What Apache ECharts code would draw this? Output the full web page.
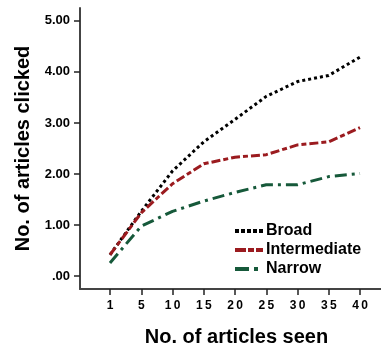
<!DOCTYPE html>
<html>
<head>
<meta charset="utf-8">
<script src="https://cdn.jsdelivr.net/npm/echarts@6/dist/echarts.min.js"></script>
<style>html,body{margin:0;padding:0;background:#fff}#c{width:381px;height:352px}</style>
</head>
<body>
<div id="c"></div>
<script>
const categories = ['1', '5', '10', '15', '20', '25', '30', '35', '40'];
const broad = [0.42, 1.27, 2.06, 2.63, 3.07, 3.52, 3.81, 3.93, 4.29];
const intermediate = [0.42, 1.24, 1.81, 2.20, 2.33, 2.38, 2.57, 2.63, 2.91];
const narrow = [0.26, 0.98, 1.27, 1.47, 1.64, 1.79, 1.79, 1.95, 2.01];
const yTicks = [0, 1, 2, 3, 4, 5];
const seriesNames = ['Broad', 'Intermediate', 'Narrow'];

const font = "'Liberation Sans', Arial, Helvetica, sans-serif";
const idx = categories.map((c, i) => i);
const toPts = arr => arr.map((v, i) => [i, v]);

const icons = [
  'path://M0,0h4v4h-4z M6,0h4v4h-4z M12,0h4v4h-4z M18,0h4v4h-4z M24,0h4v4h-4z',
  'path://M0,0h11v4h-11z M13,0h6v4h-6z M21,0h7v4h-7z',
  'path://M0,0h14v4h-14z M19,0h4v4h-4z M27,0h1v0.01h-1z'
];

const chart = echarts.init(document.getElementById('c'));
chart.setOption({
  animation: false,
  grid: { left: 80, right: 0, top: 8, bottom: 56, containLabel: false },
  xAxis: {
    type: 'value', min: -0.96, max: 8.672,
    name: 'No. of articles seen', nameLocation: 'middle', nameGap: 38,
    nameTextStyle: { fontFamily: font, fontWeight: 'bold', fontSize: 20, color: '#000', verticalAlign: 'top', padding: [0, 0, 0, 12] },
    axisLine: { onZero: false, lineStyle: { color: '#444', width: 2 } },
    axisTick: { show: true, customValues: idx, length: 6, lineStyle: { color: '#222', width: 1.5 } },
    axisLabel: { customValues: idx, formatter: v => categories[Math.round(v)].split('').join('\u2009'), fontFamily: font, fontWeight: 'bold', fontSize: 12, color: '#000', margin: 11 },
    splitLine: { show: false }
  },
  yAxis: {
    type: 'value', min: -0.25, max: 5.25,
    name: 'No. of articles clicked', nameLocation: 'middle', nameGap: 45,
    nameTextStyle: { fontFamily: font, fontWeight: 'bold', fontSize: 20, color: '#000', verticalAlign: 'bottom' },
    axisLine: { show: true, onZero: false, lineStyle: { color: '#444', width: 2 } },
    axisTick: { show: true, customValues: yTicks, length: 6, lineStyle: { color: '#222', width: 1.5 } },
    axisLabel: { customValues: yTicks, formatter: v => v === 0 ? '.00' : v.toFixed(2), fontFamily: font, fontWeight: 'bold', fontSize: 13, color: '#000', margin: 10 },
    splitLine: { show: false }
  },
  legend: {
    orient: 'vertical', left: 230, top: 218, itemWidth: 28, itemHeight: 4, itemGap: 3,
    textStyle: { fontFamily: font, fontWeight: 'bold', fontSize: 16, color: '#000', padding: [0, 0, 0, -2] },
    data: [
      { name: seriesNames[0], icon: icons[0], itemStyle: { color: '#000' } },
      { name: seriesNames[1], icon: icons[1], itemStyle: { color: '#9b1b1f' } },
      { name: seriesNames[2], icon: icons[2], itemStyle: { color: '#16593a' } }
    ]
  },
  series: [
    { name: seriesNames[0], type: 'line', data: toPts(broad), symbol: 'none',
      lineStyle: { color: '#000', width: 3, type: [3, 3] }, itemStyle: { color: '#000' } },
    { name: seriesNames[1], type: 'line', data: toPts(intermediate), symbol: 'none',
      lineStyle: { color: '#9b1b1f', width: 3, type: [9, 3, 5, 3] }, itemStyle: { color: '#9b1b1f' } },
    { name: seriesNames[2], type: 'line', data: toPts(narrow), symbol: 'none',
      lineStyle: { color: '#16593a', width: 3, type: [12, 5, 3, 5] }, itemStyle: { color: '#16593a' } }
  ]
});
</script>
</body>
</html>
